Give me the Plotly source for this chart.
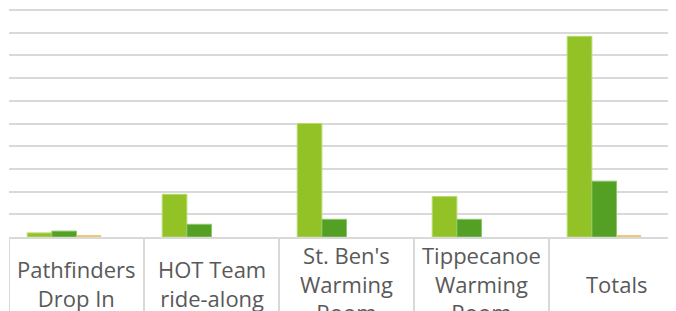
import plotly.graph_objects as go

categories = ["Pathfinders<br>Drop In", "HOT Team<br>ride-along", "St. Ben's<br>Warming<br>Room",
              "Tippecanoe<br>Warming<br>Room", "Totals"]
series_names = ["Series 1", "Series 2", "Series 3", "Series 4"]
series_1 = [9, 94, 250, 89, 442]
series_2 = [13, 28, 39, 39, 123]
series_3 = [4, 0, 0, 0, 4]
series_4 = [0, 0, 0, 0, 0]

colors = ["#93C226", "#54A024", "#EBCB72", "#C9D98A"]
edge = ["#B5DA6E", "#8CC86A", "#EBCB72", "#C9D98A"]
edge_w = [1, 1, 0, 0]

x_idx = list(range(len(categories)))
fig = go.Figure()
for name, vals, c, e, w in zip(series_names, [series_1, series_2, series_3, series_4], colors, edge, edge_w):
    fig.add_trace(go.Bar(x=x_idx, y=vals, name=name, marker=dict(color=c, line=dict(color=e, width=w))))

for i, cat in enumerate(categories):
    fig.add_annotation(x=i, xref="x", y=-0.205, yref="paper", text=cat, showarrow=False,
                       yanchor="middle", xanchor="center", align="center",
                       font=dict(family="Open Sans", size=22, color="#595959"))
for i in range(len(categories) + 1):
    fig.add_shape(type="line", xref="x", yref="paper", x0=i - 0.5, x1=i - 0.5, y0=0, y1=-0.5,
                  line=dict(color="#D9D9D9", width=2))

fig.update_layout(
    width=668, height=303, margin=dict(l=1, r=0, t=0, b=74),
    plot_bgcolor="white", paper_bgcolor="white", showlegend=False,
    barmode="group", bargap=0.27, bargroupgap=0,
)
fig.update_xaxes(range=[-0.5, -0.5 + 667 / 135], showticklabels=False, showgrid=False,
                 showline=True, linecolor="#D9D9D9", linewidth=2, zeroline=False)
fig.update_yaxes(range=[0, 500 * 229 / 227], dtick=50, showticklabels=False, gridcolor="#D9D9D9",
                 gridwidth=1.5, zeroline=False, showline=False)
fig.write_html("out.html")
